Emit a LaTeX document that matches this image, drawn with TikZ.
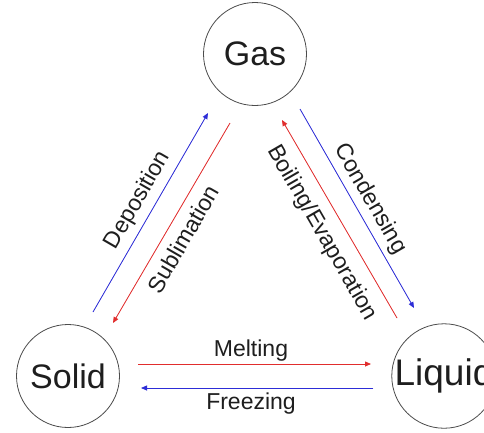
\documentclass[tikz,border=0pt]{standalone}
\usepackage{fontspec}
\setmainfont{Liberation Sans}
\usetikzlibrary{arrows.meta}
\definecolor{arrred}{RGB}{225,45,45}
\definecolor{arrblue}{RGB}{45,45,215}
\definecolor{ink}{RGB}{30,30,30}
\begin{document}
\begin{tikzpicture}[x=1pt,y=-1pt,
  state/.style={circle,draw=black!70,line width=0.8pt,minimum size=103pt,inner sep=0pt,
    font=\fontsize{34}{36}\selectfont,text=ink},
  lbl/.style={font=\fontsize{23}{25}\selectfont,text=ink,inner sep=0pt},
  tr/.style={line width=0.8pt,-{Triangle[length=6pt,width=5pt]}},
  redarr/.style={tr,draw=arrred,fill=arrred},
  bluearr/.style={tr,draw=arrblue,fill=arrblue}]
\useasboundingbox (0,0) rectangle (484,432);
\clip (0,0) rectangle (484,432);
\fill[white] (0,0) rectangle (484,432);
\node[state] (gas) at (255,54) {Gas};
\node[state] (solid) at (68,376) {Solid};
\node[state,font=\fontsize{37}{39}\selectfont] (liquid) at (444,376) {Liquid};
% end points
\coordinate (dep1) at (93,312);
\coordinate (dep2) at (208,113);
\coordinate (sub1) at (230,123);
\coordinate (sub2) at (113,323);
\coordinate (con1) at (300,109);
\coordinate (con2) at (414,308);
\coordinate (boi1) at (397,318);
\coordinate (boi2) at (282,120);
\coordinate (mel1) at (138,364);
\coordinate (mel2) at (371,364);
\coordinate (fre1) at (373,388);
\coordinate (fre2) at (141,388);
\draw[bluearr] (dep1) -- (dep2);
\draw[redarr] (sub1) -- (sub2);
\draw[bluearr] (con1) -- (con2);
\draw[redarr] (boi1) -- (boi2);
\draw[redarr] (mel1) -- (mel2);
\draw[bluearr] (fre1) -- (fre2);
\node[lbl,rotate=60] (deplbl) at (138,200) {Deposition};
\node[lbl,rotate=60] (sublbl) at (183,239) {Sublimation};
\node[lbl,rotate=-60] (conlbl) at (370,199) {Condensing};
\node[lbl,rotate=-60] (boilbl) at (322,233) {Boiling/Evaporation};
\node[lbl] (mellbl) at (251,351) {Melting};
\node[lbl] (frelbl) at (251,404) {Freezing};
\end{tikzpicture}
\end{document}
